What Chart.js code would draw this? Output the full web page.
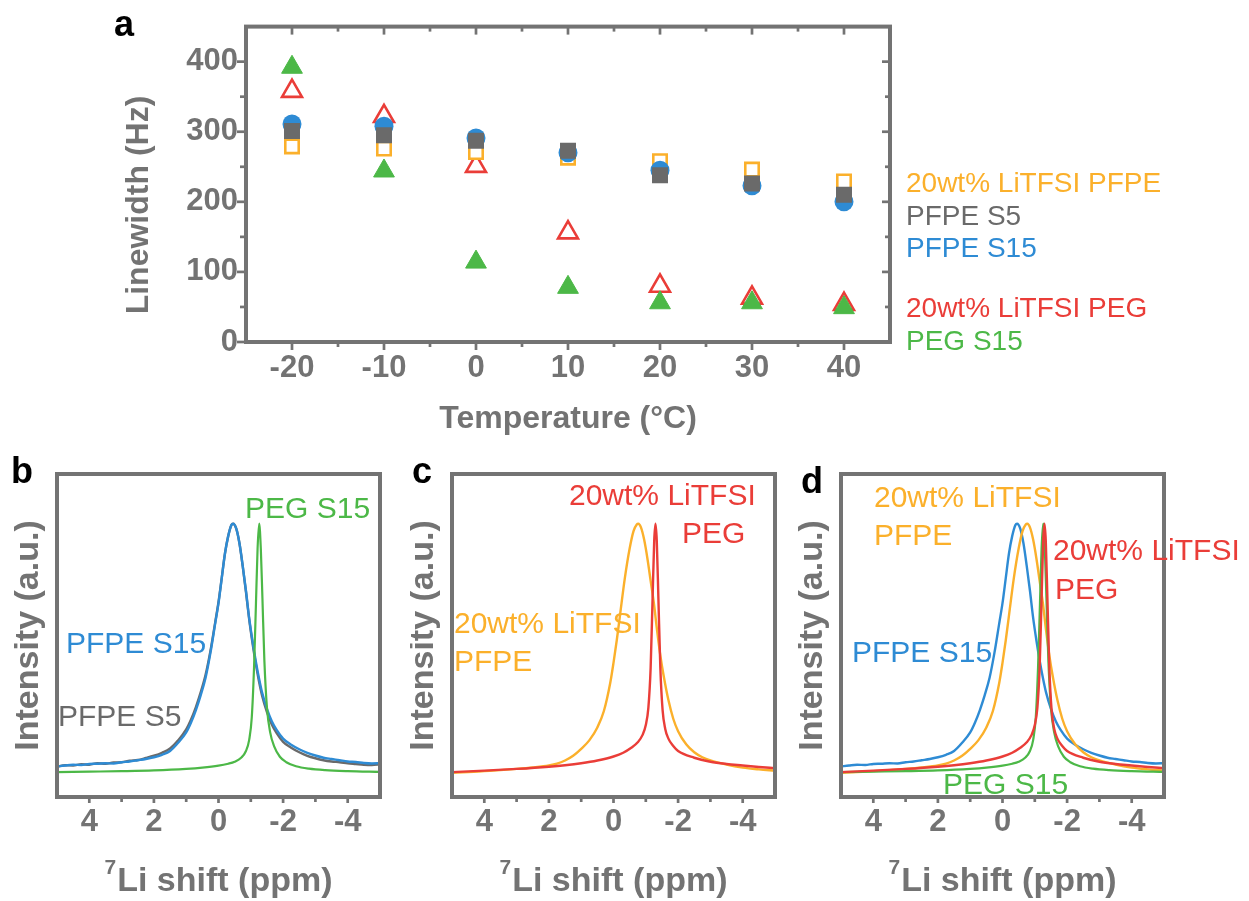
<!DOCTYPE html>
<html lang="en">
<head>
<meta charset="UTF-8">
<title>Linewidth and 7Li spectra</title>
<script src="https://cdn.jsdelivr.net/npm/chart.js"></script>
<style>
    body { margin: 0; background: #fff; }
    #wrap { position: relative; width: 1249px; height: 901px; }
    canvas { position: absolute; }
</style>
</head>
<body>
<div id="wrap">
    <canvas id="panelA" width="1249" height="450" style="left:0px;top:0px"></canvas>
    <canvas id="panelB" width="420" height="451" style="left:0px;top:450px"></canvas>
    <canvas id="panelC" width="380" height="451" style="left:410px;top:450px"></canvas>
    <canvas id="panelD" width="459" height="451" style="left:790px;top:450px"></canvas>
</div>

<script>
    // ---- panel a: linewidth vs temperature ----
    const temps = [-20, -10, 0, 10, 20, 30, 40];
    const pfpeLitfsiWidth = [279, 276, 271, 263, 258, 246, 229];
    const pfpeS5Width = [301, 295, 287, 273, 238, 226, 210];
    const pfpeS15Width = [311, 308, 291, 270, 245, 223, 200];
    const pegLitfsiWidth = [358, 322, 251, 156, 80, 63, 54];
    const pegS15Width = [392, 244, 114, 78, 56, 56, 49];

    const tempTicks = [-20, -10, 0, 10, 20, 30, 40];
    const tempMinor = [-15, -5, 5, 15, 25, 35];
    const widthTicks = [0, 100, 200, 300, 400];
    const widthMinor = [50, 150, 250, 350];

    // ---- panels b-d: 7Li spectra (normalised intensity) ----
    const shiftTicks = [4, 2, 0, -2, -4];
    const shiftMinor = [3, 1, -1, -3];

    const pfpeShift = [5.0, 4.75, 4.5, 4.25, 4.0, 3.75, 3.5, 3.25, 3.0, 2.75, 2.5, 2.25, 2.0, 1.75, 1.5, 1.25, 1.0, 0.85, 0.7, 0.55,
        0.4, 0.25, 0.1, 0.0, -0.1, -0.2, -0.3, -0.4, -0.45, -0.55, -0.65, -0.75, -0.85, -0.95, -1.05, -1.15, -1.25, -1.35, -1.5, -1.65,
        -1.8, -2.0, -2.25, -2.5, -2.75, -3.0, -3.25, -3.5, -3.75, -4.0, -4.25, -4.5, -4.75, -5.0];
    const pfpeS15Int = [0.023, 0.027, 0.030, 0.029, 0.033, 0.034, 0.036, 0.035, 0.040, 0.043, 0.048, 0.053, 0.060, 0.070, 0.085, 0.118, 0.160, 0.200, 0.250, 0.310,
        0.380, 0.480, 0.600, 0.680, 0.780, 0.880, 0.950, 0.995, 1.000, 0.980, 0.920, 0.830, 0.730, 0.620, 0.530, 0.450, 0.380, 0.320, 0.255, 0.205,
        0.170, 0.135, 0.110, 0.092, 0.078, 0.067, 0.058, 0.053, 0.048, 0.043, 0.041, 0.037, 0.035, 0.036];
    const pfpeS5Int = [0.022, 0.028, 0.027, 0.032, 0.030, 0.036, 0.034, 0.039, 0.040, 0.046, 0.049, 0.057, 0.066, 0.078, 0.095, 0.128, 0.172, 0.212, 0.262, 0.322,
        0.392, 0.488, 0.605, 0.685, 0.782, 0.880, 0.950, 0.995, 1.000, 0.980, 0.920, 0.828, 0.726, 0.615, 0.522, 0.440, 0.368, 0.308, 0.242, 0.192,
        0.157, 0.122, 0.098, 0.080, 0.066, 0.056, 0.048, 0.043, 0.040, 0.036, 0.033, 0.030, 0.029, 0.031];

    const pegS15Shift = [5.0, 4.0, 3.0, 2.0, 1.0, 0.5, 0.0, -0.3, -0.5, -0.7, -0.85, -0.95, -1.03, -1.1, -1.16, -1.21, -1.26, -1.31, -1.36, -1.42,
        -1.5, -1.6, -1.72, -1.9, -2.1, -2.4, -2.8, -3.3, -4.0, -5.0];
    const pegS15Int = [0.000, 0.002, 0.004, 0.007, 0.013, 0.018, 0.026, 0.034, 0.042, 0.058, 0.085, 0.130, 0.220, 0.420, 0.680, 0.900, 1.000, 0.900, 0.700, 0.450,
        0.260, 0.160, 0.105, 0.062, 0.040, 0.024, 0.014, 0.008, 0.004, 0.001];

    const pfpeLitfsiShift = [5.0, 4.5, 4.0, 3.5, 3.0, 2.5, 2.0, 1.75, 1.5, 1.25, 1.0, 0.75, 0.5, 0.3, 0.1, 0.0, -0.1, -0.2, -0.35, -0.5,
        -0.62, -0.72, -0.77, -0.85, -0.95, -1.05, -1.15, -1.25, -1.35, -1.45, -1.55, -1.7, -1.85, -2.0, -2.25, -2.5, -2.75, -3.0, -3.5, -4.0,
        -4.5, -5.0];
    const pfpeLitfsiInt = [-0.003, 0.000, 0.004, 0.008, 0.013, 0.019, 0.027, 0.034, 0.047, 0.066, 0.094, 0.128, 0.180, 0.245, 0.360, 0.440, 0.530, 0.630, 0.780, 0.900,
        0.970, 0.997, 1.000, 0.985, 0.935, 0.860, 0.770, 0.680, 0.570, 0.470, 0.390, 0.290, 0.215, 0.165, 0.112, 0.080, 0.060, 0.047, 0.030, 0.018,
        0.011, 0.006];

    const pegLitfsiShift = [5.0, 4.0, 3.0, 2.0, 1.5, 1.0, 0.5, 0.0, -0.3, -0.55, -0.75, -0.9, -1.0, -1.08, -1.15, -1.21, -1.26, -1.30, -1.34, -1.39,
        -1.45, -1.52, -1.6, -1.7, -1.85, -2.0, -2.5, -3.0, -3.5, -4.0, -4.5, -5.0];
    const pegLitfsiInt = [0.000, 0.006, 0.013, 0.022, 0.028, 0.036, 0.047, 0.063, 0.078, 0.098, 0.120, 0.150, 0.190, 0.260, 0.420, 0.700, 0.930, 1.000, 0.930, 0.700,
        0.420, 0.250, 0.175, 0.135, 0.105, 0.085, 0.058, 0.042, 0.033, 0.027, 0.021, 0.016];

    // colours
    const axisGrey = '#737373';
    const blue = '#2e8bd4';
    const green = '#4cb847';
    const red = '#ea3d38';
    const orange = '#fbb02b';
    const grey = '#6a6a6a';

    const FAMILY = '"Liberation Sans", Arial, sans-serif';
    const tickFont = {family: FAMILY, size: 31, weight: 'bold', lineHeight: 1.2};
    const letterFont = 'bold 36px ' + FAMILY;
    const noteFont = '30px ' + FAMILY;
    const legendFont = '28px ' + FAMILY;

    // frame, tick marks, titles and labels
    const panelDecor = {
        id: 'panelDecor',
        afterDraw(chart, args, o) {
            const {ctx, chartArea: area} = chart;
            const sx = chart.scales.x, sy = chart.scales.y;
            const titleFont = 'bold ' + o.titleSize + 'px ' + FAMILY;
            ctx.save();
            ctx.strokeStyle = axisGrey;
            ctx.lineWidth = 2.7;
            const tk = (x1, y1, x2, y2) => {
                ctx.beginPath(); ctx.moveTo(x1, y1); ctx.lineTo(x2, y2); ctx.stroke();
            };
            (o.xMajor || []).forEach(v => {
                const p = sx.getPixelForValue(v);
                tk(p, area.bottom, p, area.bottom + o.major);
                if (o.mirror) tk(p, area.top, p, area.top + o.major);
            });
            (o.xMinor || []).forEach(v => {
                const p = sx.getPixelForValue(v);
                tk(p, area.bottom, p, area.bottom + o.minor);
                if (o.mirror) tk(p, area.top, p, area.top + o.minor);
            });
            (o.yMajor || []).forEach(v => {
                const p = sy.getPixelForValue(v);
                tk(area.left - o.major - 1, p, area.left, p);
                if (o.mirror) tk(area.right - o.major, p, area.right, p);
            });
            (o.yMinor || []).forEach(v => {
                const p = sy.getPixelForValue(v);
                tk(area.left - o.minor - 1, p, area.left, p);
                if (o.mirror) tk(area.right - o.minor, p, area.right, p);
            });
            ctx.lineWidth = 4;
            ctx.strokeRect(area.left, area.top, area.right - area.left, area.bottom - area.top);

            // axis titles
            ctx.fillStyle = axisGrey;
            ctx.font = titleFont;
            const midX = (area.left + area.right) / 2;
            if (o.xTitle) {
                ctx.textBaseline = 'alphabetic';
                if (o.xSup) {
                    const supFont = 'bold ' + Math.round(o.titleSize * 0.62) + 'px ' + FAMILY;
                    ctx.font = supFont;
                    const w1 = ctx.measureText(o.xSup).width;
                    ctx.font = titleFont;
                    const w2 = ctx.measureText(o.xTitle).width;
                    const start = midX - (w1 + w2 + 1) / 2;
                    ctx.textAlign = 'left';
                    ctx.font = supFont;
                    ctx.fillText(o.xSup, start, o.xTitleY - Math.round(o.titleSize * 0.5));
                    ctx.font = titleFont;
                    ctx.fillText(o.xTitle, start + w1 + 1, o.xTitleY);
                } else {
                    ctx.textAlign = 'center';
                    ctx.fillText(o.xTitle, midX, o.xTitleY);
                }
            }
            if (o.yTitle) {
                ctx.save();
                ctx.translate(area.left - o.yTitleGap, o.yTitleY != null ? o.yTitleY : (area.top + area.bottom) / 2);
                ctx.rotate(-Math.PI / 2);
                ctx.textAlign = 'center';
                ctx.textBaseline = 'middle';
                ctx.fillText(o.yTitle, 0, 0);
                ctx.restore();
            }

            // free labels
            ctx.textAlign = 'left';
            ctx.textBaseline = 'alphabetic';
            (o.notes || []).forEach(n => {
                ctx.font = n.font;
                ctx.fillStyle = n.color;
                ctx.fillText(n.text, n.x, n.y);
            });
            ctx.restore();
        }
    };

    function axisX(min, max, reverse, ticks, height, pad) {
        return {
            type: 'linear', min, max, reverse,
            afterBuildTicks: s => { s.ticks = ticks.map(v => ({value: v})); },
            afterFit: s => { s.height = height; },
            grid: {display: false, drawTicks: false},
            border: {display: false},
            ticks: {font: tickFont, color: axisGrey, padding: pad, maxRotation: 0, autoSkip: false}
        };
    }

    function baseOptions(padding, scales, decor) {
        return {
            responsive: false,
            animation: false,
            events: [],
            layout: {padding, autoPadding: false},
            plugins: {legend: {display: false}, tooltip: {enabled: false}, panelDecor: decor},
            scales
        };
    }

    const pts = (xs, ys) => xs.map((x, i) => ({x, y: ys[i]}));

    // ---------- panel a ----------
    new Chart(document.getElementById('panelA'), {
        type: 'scatter',
        data: {
            datasets: [
                {label: '20wt% LiTFSI PEG', data: pts(temps, pegLitfsiWidth), pointStyle: 'triangle', pointRadius: 11.5,
                    pointBorderColor: red, pointBackgroundColor: '#fff', pointBorderWidth: 2.6, order: 5},
                {label: '20wt% LiTFSI PFPE', data: pts(temps, pfpeLitfsiWidth), pointStyle: 'rect', pointRadius: 9.5,
                    pointBorderColor: orange, pointBackgroundColor: '#fff', pointBorderWidth: 2.6, order: 4},
                {label: 'PFPE S15', data: pts(temps, pfpeS15Width), pointStyle: 'circle', pointRadius: 9.5,
                    pointBorderColor: blue, pointBackgroundColor: blue, pointBorderWidth: 0, order: 3},
                {label: 'PFPE S5', data: pts(temps, pfpeS5Width), pointStyle: 'rect', pointRadius: 11.3,
                    pointBorderColor: grey, pointBackgroundColor: grey, pointBorderWidth: 0, order: 2},
                {label: 'PEG S15', data: pts(temps, pegS15Width), pointStyle: 'triangle', pointRadius: 12,
                    pointBorderColor: green, pointBackgroundColor: green, pointBorderWidth: 1, order: 1}
            ]
        },
        options: baseOptions({left: 0, top: 21, right: 359, bottom: 0}, {
            x: axisX(-25, 45, false, tempTicks, 108, 8),
            y: {
                type: 'linear', min: 0, max: 450,
                afterBuildTicks: s => { s.ticks = widthTicks.map(v => ({value: v})); },
                afterFit: s => { s.width = 246; },
                grid: {display: false, drawTicks: false},
                border: {display: false},
                ticks: {font: tickFont, color: axisGrey, padding: 8}
            }
        }, {
            xMajor: tempTicks, xMinor: tempMinor, yMajor: widthTicks, yMinor: widthMinor,
            major: 8, minor: 5, mirror: true, titleSize: 32,
            xTitle: 'Temperature (°C)', xTitleY: 428,
            yTitle: 'Linewidth (Hz)', yTitleGap: 107, yTitleY: 205,
            notes: [
                {text: 'a', x: 114, y: 36, color: '#000', font: letterFont},
                {text: '20wt% LiTFSI PFPE', x: 906, y: 192, color: orange, font: legendFont},
                {text: 'PFPE S5', x: 906, y: 225, color: grey, font: legendFont},
                {text: 'PFPE S15', x: 906, y: 257, color: blue, font: legendFont},
                {text: '20wt% LiTFSI PEG', x: 906, y: 317, color: red, font: legendFont},
                {text: 'PEG S15', x: 906, y: 350, color: green, font: legendFont}
            ]
        }),
        plugins: [panelDecor]
    });

    // ---------- panels b-d ----------
    function line(label, xs, ys, color, order, width) {
        return {
            label, data: pts(xs, ys), showLine: true, pointRadius: 0,
            borderColor: color, borderWidth: width || 2.4, cubicInterpolationMode: 'monotone', order
        };
    }

    function spectrum(id, datasets, yWidth, padRight, notes) {
        new Chart(document.getElementById(id), {
            type: 'scatter',
            data: {datasets},
            options: baseOptions({left: 0, top: 24, right: padRight, bottom: 0}, {
                x: axisX(-5, 5, true, shiftTicks, 104, 7),
                y: {
                    type: 'linear', min: -0.1, max: 1.2,
                    afterFit: s => { s.width = yWidth; },
                    grid: {display: false, drawTicks: false},
                    border: {display: false},
                    ticks: {display: false}
                }
            }, {
                xMajor: shiftTicks, xMinor: shiftMinor, major: 6, minor: 5, mirror: false, titleSize: 34,
                xSup: '7', xTitle: 'Li shift (ppm)', xTitleY: 441,
                yTitle: 'Intensity (a.u.)', yTitleGap: 28,
                notes
            }),
            plugins: [panelDecor]
        });
    }

    spectrum('panelB', [
        line('PFPE S5', pfpeShift, pfpeS5Int, grey, 3),
        line('PFPE S15', pfpeShift, pfpeS15Int, blue, 2),
        line('PEG S15', pegS15Shift, pegS15Int, green, 1, 2.2)
    ], 57, 40, [
        {text: 'b', x: 11, y: 33, color: '#000', font: letterFont},
        {text: 'PEG S15', x: 245, y: 68, color: green, font: noteFont},
        {text: 'PFPE S15', x: 66, y: 203, color: blue, font: noteFont},
        {text: 'PFPE S5', x: 58, y: 276, color: grey, font: noteFont}
    ]);

    spectrum('panelC', [
        line('20wt% LiTFSI PFPE', pfpeLitfsiShift, pfpeLitfsiInt, orange, 2),
        line('20wt% LiTFSI PEG', pegLitfsiShift, pegLitfsiInt, red, 1)
    ], 42, 15, [
        {text: 'c', x: 2, y: 33, color: '#000', font: letterFont},
        {text: '20wt% LiTFSI', x: 159, y: 55, color: red, font: noteFont},
        {text: 'PEG', x: 272, y: 93, color: red, font: noteFont},
        {text: '20wt% LiTFSI', x: 44, y: 183, color: orange, font: noteFont},
        {text: 'PFPE', x: 44, y: 221, color: orange, font: noteFont}
    ]);

    spectrum('panelD', [
        line('PFPE S15', pfpeShift, pfpeS15Int, blue, 4),
        line('20wt% LiTFSI PFPE', pfpeLitfsiShift, pfpeLitfsiInt, orange, 3),
        line('PEG S15', pegS15Shift, pegS15Int, green, 2, 2.2),
        line('20wt% LiTFSI PEG', pegLitfsiShift, pegLitfsiInt, red, 1)
    ], 51, 85, [
        {text: 'd', x: 11, y: 43, color: '#000', font: letterFont},
        {text: '20wt% LiTFSI', x: 84, y: 57, color: orange, font: noteFont},
        {text: 'PFPE', x: 84, y: 95, color: orange, font: noteFont},
        {text: '20wt% LiTFSI', x: 263, y: 110, color: red, font: noteFont},
        {text: 'PEG', x: 265, y: 149, color: red, font: noteFont},
        {text: 'PFPE S15', x: 62, y: 212, color: blue, font: noteFont},
        {text: 'PEG S15', x: 153, y: 344, color: green, font: noteFont}
    ]);
</script>
</body>
</html>
